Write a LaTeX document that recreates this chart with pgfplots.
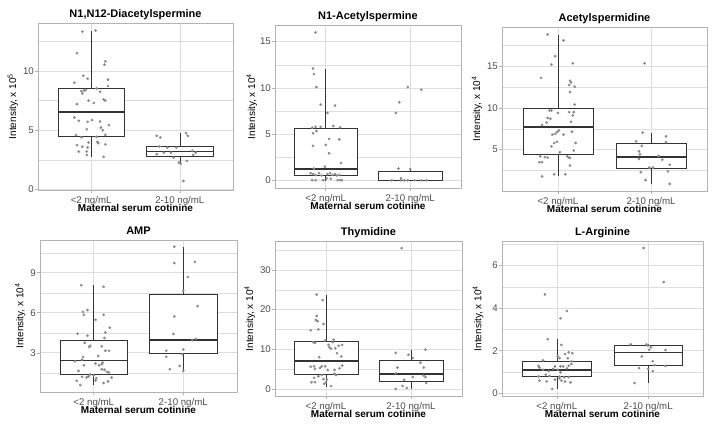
\documentclass[border=0pt]{standalone}
\usepackage{fontspec}
\setmainfont{Liberation Sans}
\usepackage{pgfplots}
\pgfplotsset{compat=1.18}
\usepgfplotslibrary{statistics}

\definecolor{gridc}{HTML}{DEDEDE}
\definecolor{framec}{HTML}{B3B3B3}
\definecolor{tickc}{HTML}{4D4D4D}
\definecolor{boxc}{HTML}{333333}
\definecolor{dotc}{HTML}{8A8A8A}

\pgfplotsset{
  panel/.style={
    scale only axis,
    xmin=0.4, xmax=2.6,
    xtick={1,2}, xticklabels={<2 ng/mL,2-10 ng/mL},
    tick pos=left, tick align=outside,
    major tick length=3pt, minor tick length=0pt,
    tick style={framec, line width=0.5pt},
    axis line style={framec, line width=0.8pt},
    xmajorgrids, ymajorgrids, yminorgrids,
    major grid style={gridc, line width=0.6pt},
    minor grid style={gridc, line width=0.35pt},
    ticklabel style={font=\fontsize{9.7}{11}\selectfont, text=tickc, inner sep=1pt},
    /pgf/number format/assume math mode=true,
    xticklabel style={anchor=base, yshift=-10.4pt, inner sep=0pt},
    every axis title shift=0pt,
    title style={font=\bfseries\fontsize{11}{13}\selectfont,
      at={(axis description cs:0.5,1)}, anchor=base, yshift=5.4pt},
    xlabel={Maternal serum cotinine},
    xlabel style={font=\bfseries\fontsize{10}{12}\selectfont, inner sep=0pt,
      at={(axis description cs:0.5,0)}, anchor=base, yshift=-22pt},
    ylabel style={font=\fontsize{10}{12}\selectfont, anchor=center},
    boxplot/draw direction=y,
    boxplot/box extend=0.75,
    boxplot/whisker extend=0,
    boxplot/every box/.style={fill=white},
    boxplot/every median/.style={line width=1.6pt},
  },
  bx/.style={draw=boxc, line width=0.6pt},
  dots/.style={only marks, color=dotc, mark=*, mark size=1.15pt,
    mark options={draw=none, fill=dotc}},
}

\begin{document}
\begin{tikzpicture}
\useasboundingbox (0,0) rectangle (713pt,426pt);

% N1,N12-Diacetylspermine
\begin{axis}[panel, at={(38pt,236pt)}, anchor=south west,
    width=195pt, height=167pt,
    ymin=-0.06, ymax=14.06, ytick={0,5,10}, minor ytick={2.5,7.5,12.5},
    title={N1,N12-Diacetylspermine},
    ylabel={Intensity, x 10\textsuperscript{5}},
    ylabel style={at={(axis description cs:-0.128,0.5)}}]
\addplot[bx, boxplot prepared={lower whisker=2.74, lower quartile=4.52,
  median=6.53, upper quartile=8.56, upper whisker=13.42, draw position=1}] coordinates {};
\addplot[bx, boxplot prepared={lower whisker=2.17, lower quartile=2.82,
  median=3.19, upper quartile=3.62, upper whisker=4.75, draw position=2}] coordinates {};
\addplot[dots] table {
x y
0.90 13.33
1.05 13.42
0.84 11.5
1.16 10.82
1.15 10.54
0.81 9.01
0.91 9.6
0.96 9.35
1.19 9.27
1.19 8.73
1.06 8.53
0.89 8.3
0.92 8.35
0.94 8.4
0.90 8.1
1.10 8.25
0.84 7.2
0.97 7.5
1.03 7.3
1.14 7.6
1.16 7.49
0.81 6.07
0.86 5.79
1.01 5.85
0.96 5.7
1.10 5.73
1.11 5.22
1.13 5.0
0.95 5.08
1.20 5.42
1.16 4.6
0.83 4.58
0.89 4.4
1.06 4.43
0.84 3.73
0.90 3.6
1.07 4.0
1.08 3.9
0.97 3.95
0.96 3.53
1.16 3.8
0.86 3.19
0.95 3.19
0.95 2.9
1.14 2.74
1.74 4.52
1.78 4.38
2.07 4.75
2.09 4.52
1.77 3.62
1.86 3.53
1.96 3.53
1.82 3.1
1.90 3.1
1.74 2.97
2.18 3.1
2.14 3.25
1.93 2.68
1.99 2.26
2.01 2.17
2.08 2.4
2.04 0.7
2.15 2.9
};
\end{axis}

% N1-Acetylspermine
\begin{axis}[panel, at={(275pt,238pt)}, anchor=south west,
    width=186pt, height=163pt,
    ymin=-0.8, ymax=16.8, ytick={0,5,10,15}, minor ytick={2.5,7.5,12.5},
    title={N1-Acetylspermine},
    ylabel={Intensity, x 10\textsuperscript{4}},
    ylabel style={at={(axis description cs:-0.124,0.5)}}]
\addplot[bx, boxplot prepared={lower whisker=0, lower quartile=0.6,
  median=1.25, upper quartile=5.6, upper whisker=12.1, draw position=1}] coordinates {};
\addplot[bx, boxplot prepared={lower whisker=0, lower quartile=0,
  median=0.03, upper quartile=1.05, upper whisker=1.25, draw position=2}] coordinates {};
\addplot[dots] table {
x y
0.88 16.0
0.85 12.1
0.86 11.5
0.89 10.1
0.94 8.2
1.11 8.1
1.02 7.3
0.84 5.7
0.88 5.8
0.94 5.8
1.09 5.9
1.17 5.75
0.85 5.1
0.89 5.35
1.04 4.5
1.16 4.45
0.85 3.75
1.00 3.85
1.04 2.95
1.18 1.9
0.86 1.3
0.99 1.5
0.82 0.8
0.85 0.7
0.88 0.6
0.92 0.8
0.95 0.55
1.02 0.7
1.05 0.8
1.08 0.6
1.11 0.7
1.13 0.55
1.16 0.6
0.88 0.05
0.97 0.05
1.01 0.25
1.14 0.05
1.17 0.05
1.19 0.05
1.06 0.2
0.84 0.05
1.97 10.1
2.13 9.8
1.87 8.45
1.83 7.3
1.86 1.3
2.00 1.25
1.89 0.25
1.78 0.03
1.89 0.03
1.93 0.03
2.05 0.03
2.13 0.03
2.19 0.03
1.97 0.03
};
\end{axis}

% Acetylspermidine
\begin{axis}[panel, at={(502pt,235pt)}, anchor=south west,
    width=205pt, height=164pt,
    ymin=0.05, ymax=19.7, ytick={5,10,15}, minor ytick={2.5,7.5,12.5,17.5},
    title={Acetylspermidine},
    ylabel={Intensity, x 10\textsuperscript{4}},
    ylabel style={at={(axis description cs:-0.122,0.5)}}]
\addplot[bx, boxplot prepared={lower whisker=1.8, lower quartile=4.48,
  median=7.7, upper quartile=10.0, upper whisker=18.8, draw position=1}] coordinates {};
\addplot[bx, boxplot prepared={lower whisker=0.9, lower quartile=2.75,
  median=4.1, upper quartile=5.8, upper whisker=7.05, draw position=2}] coordinates {};
\addplot[dots] table {
x y
0.89 18.8
1.06 18.1
0.97 16.2
0.93 15.2
1.16 15.35
0.82 13.6
1.13 13.25
1.14 13.05
1.12 12.75
1.18 12.55
1.13 11.9
1.18 10.4
0.91 9.7
0.93 9.7
1.00 9.4
1.12 9.5
1.17 9.5
1.16 9.1
0.89 8.8
0.92 8.7
0.88 8.25
1.14 8.35
0.83 7.95
1.01 7.3
0.99 7.1
0.97 6.9
0.94 6.8
1.06 6.8
1.15 7.15
0.99 5.95
0.96 5.8
1.19 5.8
0.93 5.4
1.02 4.7
0.81 4.2
0.86 4.1
0.89 4.05
1.10 4.2
1.12 4.05
1.17 4.9
1.13 4.0
0.80 3.5
0.83 3.5
1.13 3.1
0.96 2.05
1.08 2.05
0.83 1.8
1.93 15.35
1.91 7.05
2.16 6.6
1.84 6.0
2.16 5.9
1.90 5.45
1.87 4.8
1.88 4.45
1.87 3.9
2.08 4.25
2.12 3.8
2.20 3.2
1.98 2.85
2.02 2.85
1.89 2.3
2.18 2.4
1.94 1.35
2.20 0.9
};
\end{axis}

% AMP
\begin{axis}[panel, at={(40pt,34pt)}, anchor=south west,
    width=197pt, height=152pt,
    ymin=0.06, ymax=11.45, ytick={3,6,9}, minor ytick={1.5,4.5,7.5,10.5},
    title={AMP},
    ylabel={Intensity, x 10\textsuperscript{4}},
    ylabel style={at={(axis description cs:-0.10,0.5)}}]
\addplot[bx, boxplot prepared={lower whisker=0.58, lower quartile=1.35,
  median=2.41, upper quartile=3.94, upper whisker=8.06, draw position=1}] coordinates {};
\addplot[bx, boxplot prepared={lower whisker=1.64, lower quartile=2.95,
  median=3.94, upper quartile=7.37, upper whisker=10.95, draw position=2}] coordinates {};
\addplot[dots] table {
x y
0.86 8.06
1.11 7.94
0.93 6.2
0.88 6.06
0.89 5.84
1.11 5.84
1.02 5.47
1.18 4.88
0.82 4.43
1.13 4.53
0.93 4.28
1.12 4.11
0.90 3.74
1.09 3.49
0.95 3.44
0.96 3.52
1.17 3.15
1.13 3.15
1.05 2.75
0.88 2.68
0.87 2.48
0.79 2.36
1.10 2.26
1.09 2.14
1.06 2.06
0.89 2.06
1.02 2.19
0.83 1.64
1.09 1.77
1.12 1.72
1.15 1.57
1.17 1.52
0.96 1.37
1.00 1.3
0.94 1.22
0.92 1.15
0.87 1.2
1.03 1.1
1.20 1.15
0.81 0.9
1.16 0.85
1.11 0.73
0.85 0.58
1.02 0.93
1.90 10.95
1.90 9.72
2.13 9.81
2.05 8.68
2.00 7.64
2.16 6.5
1.90 5.72
1.89 4.41
2.10 3.94
2.14 4.04
2.00 3.25
1.81 3.15
1.99 2.9
1.81 2.7
1.96 2.01
1.85 1.77
2.00 1.64
};
\end{axis}

% Thymidine
\begin{axis}[panel, at={(275pt,30pt)}, anchor=south west,
    width=187pt, height=155pt,
    ymin=-1.78, ymax=37.3, ytick={0,10,20,30}, minor ytick={5,15,25,35},
    title={Thymidine},
    ylabel={Intensity, x 10\textsuperscript{4}},
    ylabel style={at={(axis description cs:-0.134,0.5)}}]
\addplot[bx, boxplot prepared={lower whisker=0.6, lower quartile=3.8,
  median=7.0, upper quartile=11.9, upper whisker=23.8, draw position=1}] coordinates {};
\addplot[bx, boxplot prepared={lower whisker=0, lower quartile=1.85,
  median=3.8, upper quartile=7.3, upper whisker=9.9, draw position=2}] coordinates {};
\addplot[dots] table {
x y
0.89 23.8
0.96 22.4
0.89 18.4
0.88 17.4
0.90 17.1
0.97 16.4
0.82 14.8
0.91 15.0
0.85 11.8
0.87 11.6
0.99 12.2
1.09 12.4
1.08 11.8
1.19 11.1
1.15 10.9
1.03 11.1
1.04 10.5
1.06 10.1
1.11 10.25
1.13 9.0
1.18 8.2
0.92 8.0
0.82 5.6
0.86 5.7
0.95 5.7
0.99 5.7
1.19 5.9
0.87 5.0
0.93 5.3
1.02 4.8
1.10 4.8
1.16 5.2
1.12 3.5
1.10 3.8
0.95 3.5
0.91 3.2
0.97 2.5
0.86 2.8
1.01 2.35
0.83 1.7
0.87 1.7
0.98 1.3
1.06 0.7
1.00 1.7
1.89 35.5
1.82 9.1
2.17 9.9
1.97 8.6
2.02 7.8
2.11 6.6
1.84 5.4
2.15 5.4
1.82 3.95
2.02 3.0
2.15 3.4
2.17 3.0
2.18 1.5
1.92 2.3
1.90 0.75
1.82 0.0
1.95 0.25
};
\end{axis}

% L-Arginine
\begin{axis}[panel, at={(502pt,30pt)}, anchor=south west,
    width=201pt, height=155pt,
    ymin=-0.13, ymax=7.15, ytick={0,2,4,6}, minor ytick={1,3,5,7},
    title={L-Arginine},
    ylabel={Intensity, x 10\textsuperscript{4}},
    ylabel style={at={(axis description cs:-0.119,0.5)}}]
\addplot[bx, boxplot prepared={lower whisker=0.2, lower quartile=0.78,
  median=1.1, upper quartile=1.5, upper whisker=2.54, draw position=1}] coordinates {};
\addplot[bx, boxplot prepared={lower whisker=0.48, lower quartile=1.29,
  median=1.92, upper quartile=2.26, upper whisker=2.29, draw position=2}] coordinates {};
\addplot[dots] table {
x y
0.87 4.64
1.11 3.86
1.04 3.52
0.90 2.54
1.05 2.27
1.13 1.92
1.17 1.88
1.09 1.84
1.01 1.73
1.03 1.65
1.12 1.64
0.85 1.54
1.16 1.5
1.16 1.37
1.13 1.29
0.80 1.28
0.81 1.2
0.98 1.26
1.04 1.26
1.07 1.26
1.11 1.17
0.96 1.14
1.01 1.1
0.91 1.04
0.85 1.1
1.04 0.98
0.88 0.87
0.92 0.81
0.80 0.79
1.03 0.78
1.08 0.75
1.13 0.76
0.81 0.59
0.89 0.55
0.98 0.64
1.05 0.59
1.09 0.55
1.15 0.51
1.03 0.7
0.95 0.2
1.95 6.82
2.17 5.22
1.81 2.29
1.98 2.29
2.00 2.23
2.03 2.15
2.01 2.04
2.19 2.03
1.93 1.73
2.05 1.5
2.07 1.32
2.19 1.28
1.90 1.18
2.00 1.14
2.05 1.03
1.85 0.48
};
\end{axis}
\end{tikzpicture}
\end{document}
